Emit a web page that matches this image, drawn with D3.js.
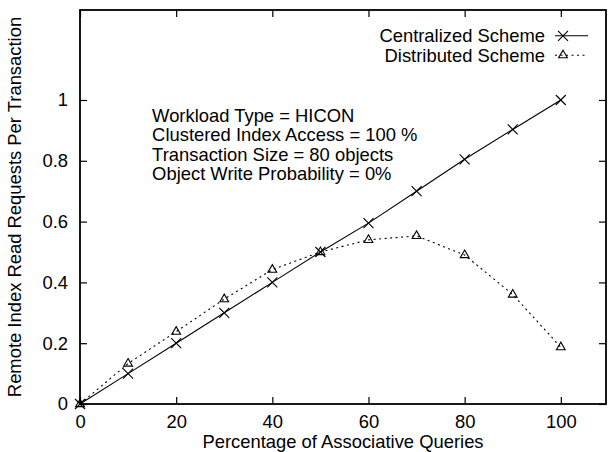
<!DOCTYPE html>
<html>
<head>
<meta charset="utf-8">
<script src="https://cdn.jsdelivr.net/npm/d3@7"></script>
<style>
  html, body { margin: 0; padding: 0; background: #fff; }
  svg { display: block; }
  text { font-family: "Liberation Sans", Arial, Helvetica, sans-serif; fill: #000; }
</style>
</head>
<body>
<script>
// Percentage of associative queries (x) and remote read requests per transaction
const queryPct = [0, 10, 20, 30, 40, 50, 60, 70, 80, 90, 100];
const centralized = [0, 0.1, 0.2, 0.3, 0.4, 0.5, 0.595, 0.7, 0.805, 0.903, 1.0];
const distributed = [0, 0.133, 0.238, 0.345, 0.442, 0.5, 0.54, 0.553, 0.49, 0.36, 0.187];
const xTicks = [0, 20, 40, 60, 80, 100];
const yTicks = [0, 0.2, 0.4, 0.6, 0.8, 1];
const seriesNames = ["Centralized Scheme", "Distributed Scheme"];
const notes = [
  "Workload Type = HICON",
  "Clustered Index Access = 100 %",
  "Transaction Size = 80 objects",
  "Object Write Probability = 0%"
];
const xLabel = "Percentage of Associative Queries";
const yLabel = "Remote Index Read Requests Per Transaction";

const W = 613, H = 452;
const m = { left: 80, right: 7, top: 10, bottom: 48 };
const svg = d3.select("body").append("svg").attr("width", W).attr("height", H);

const x = d3.scaleLinear().domain([0, 109.4]).range([m.left, W - m.right]);
const y = d3.scaleLinear().domain([0, 1.296]).range([H - m.bottom, m.top]);

const fs = 18.4, tickLen = 7;

// axes with inward ticks, mirrored on top and right
svg.append("g").attr("transform", `translate(0,${y(0)})`)
  .call(d3.axisBottom(x).tickValues(xTicks).tickSize(-tickLen).tickPadding(10.5).tickFormat(d3.format("d")));
svg.append("g").attr("transform", `translate(0,${y.range()[1]})`)
  .call(d3.axisTop(x).tickValues(xTicks).tickSize(-tickLen).tickFormat(""));
svg.append("g").attr("transform", `translate(${x(0)},0)`)
  .call(d3.axisLeft(y).tickValues(yTicks).tickSize(-tickLen).tickPadding(12).tickFormat(d => d === 0 ? "0" : d3.format("~g")(d)));
svg.append("g").attr("transform", `translate(${x.range()[1]},0)`)
  .call(d3.axisRight(y).tickValues(yTicks).tickSize(-tickLen).tickFormat(""));

svg.selectAll(".domain").remove();
svg.selectAll(".tick line").attr("stroke", "#000").attr("stroke-width", 1.2);
svg.selectAll(".tick text").attr("font-size", fs).style("font-family", "'Liberation Sans', Arial, sans-serif");

// plot frame
svg.append("rect")
  .attr("x", x.range()[0]).attr("y", y.range()[1])
  .attr("width", x.range()[1] - x.range()[0]).attr("height", y.range()[0] - y.range()[1])
  .attr("fill", "none").attr("stroke", "#000").attr("stroke-width", 1.8);

// axis titles, centred on the plot area
const cx = (x.range()[0] + x.range()[1]) / 2;
const cy = (y.range()[0] + y.range()[1]) / 2;
svg.append("text").attr("x", cx).attr("y", 447.5).attr("text-anchor", "middle")
  .attr("font-size", fs).text(xLabel);
svg.append("text").attr("transform", `translate(20.5,${cy}) rotate(-90)`)
  .attr("text-anchor", "middle").attr("font-size", fs).text(yLabel);

// annotation block
notes.forEach((t, i) => {
  svg.append("text").attr("x", x(15)).attr("y", 122 + i * 19.3).attr("font-size", fs).text(t);
});

const line = d3.line().x((d, i) => x(queryPct[i])).y(d => y(d));

function cross(g, px, py) {
  const r = 5;
  g.append("path").attr("d", `M${px - r},${py - r}L${px + r},${py + r}M${px - r},${py + r}L${px + r},${py - r}`)
    .attr("stroke", "#000").attr("stroke-width", 1.1).attr("fill", "none");
}
function tri(g, px, py) {
  g.append("path").attr("d", `M${px},${py - 5}L${px + 4.4},${py + 2.6}L${px - 4.4},${py + 2.6}Z`)
    .attr("stroke", "#000").attr("stroke-width", 1.1).attr("fill", "none");
}

const dash = "2,3.5";

// centralized series: solid line with crosses
const gC = svg.append("g");
gC.append("path").datum(centralized).attr("d", line)
  .attr("fill", "none").attr("stroke", "#000").attr("stroke-width", 1.1);
centralized.forEach((v, i) => cross(gC, x(queryPct[i]), y(v)));

// distributed series: dotted line with triangles
const gD = svg.append("g");
gD.append("path").datum(distributed).attr("d", line)
  .attr("fill", "none").attr("stroke", "#000").attr("stroke-width", 1.1).attr("stroke-dasharray", dash);
distributed.forEach((v, i) => tri(gD, x(queryPct[i]), y(v)));

// legend
const lg = svg.append("g");
seriesNames.forEach((name, i) => {
  const ly = 35.8 + i * 19.4;
  lg.append("text").attr("x", 545).attr("y", ly + 6.6).attr("text-anchor", "end")
    .attr("font-size", fs).text(name);
  const seg = lg.append("line").attr("x1", 555).attr("x2", 588).attr("y1", ly).attr("y2", ly)
    .attr("stroke", "#000").attr("stroke-width", 1.1);
  if (i === 1) seg.attr("stroke-dasharray", dash);
  if (i === 0) cross(lg, 563, ly); else tri(lg, 563, ly);
});
</script>
</body>
</html>
